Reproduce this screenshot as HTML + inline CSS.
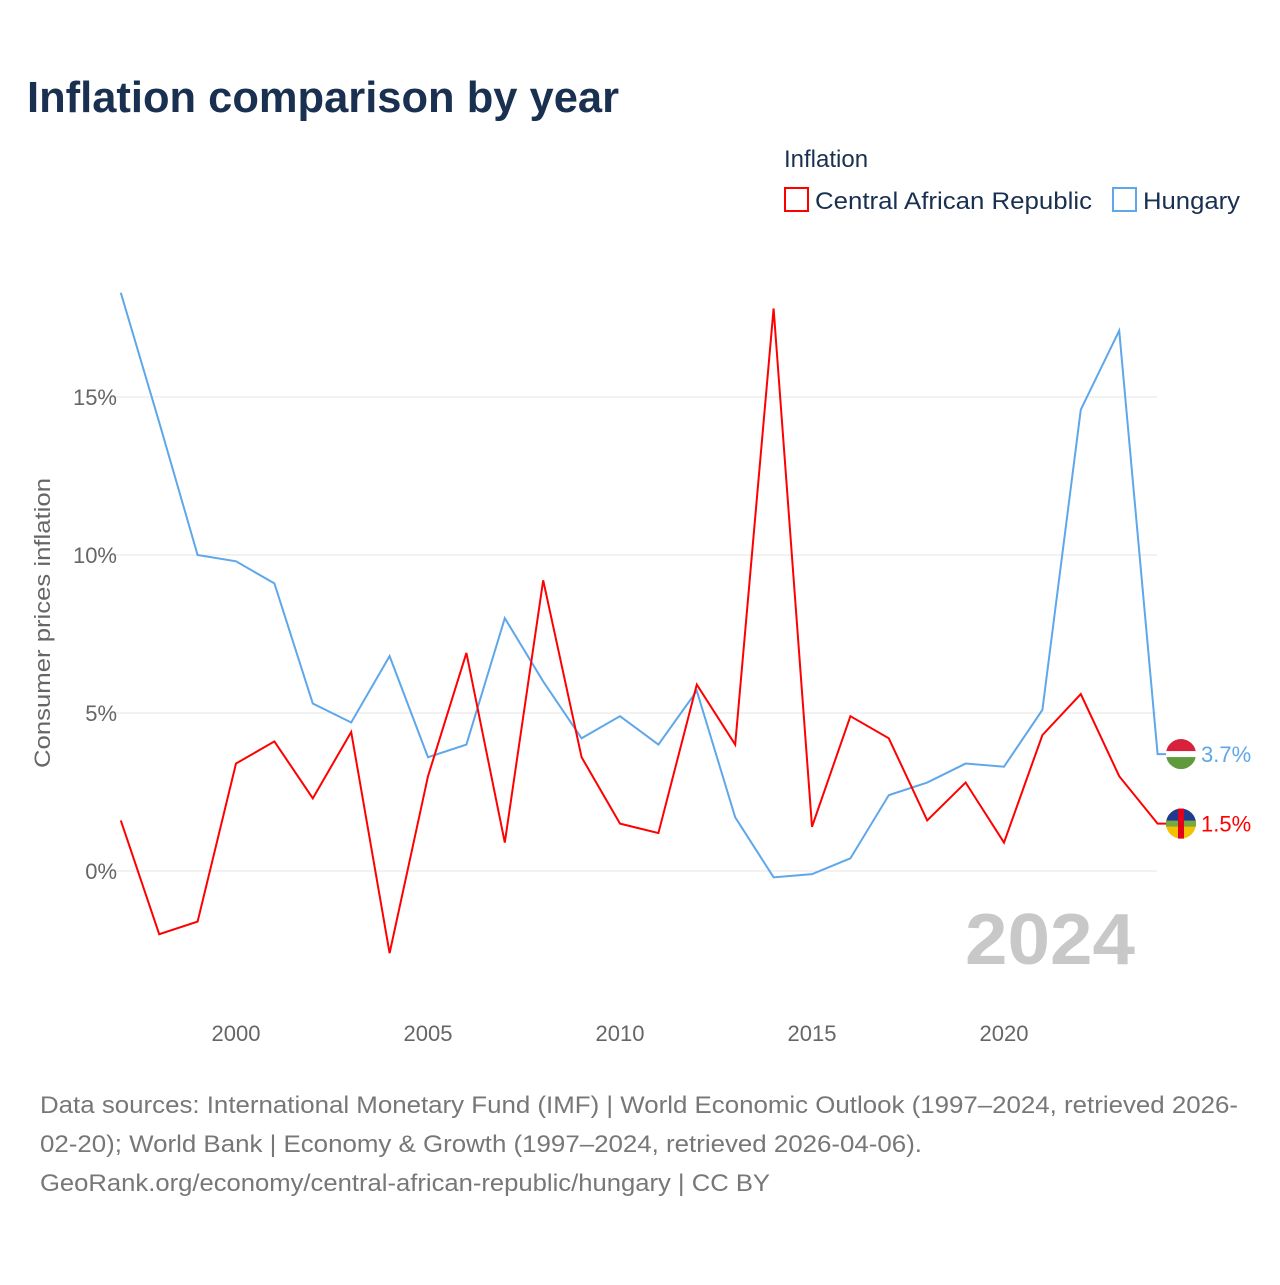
<!DOCTYPE html>
<html><head><meta charset="utf-8"><style>
body{margin:0;background:#fff;font-family:"Liberation Sans",sans-serif;}
svg text{font-family:"Liberation Sans",sans-serif;}
</style></head><body>
<svg id="chart" width="1280" height="1280" xmlns="http://www.w3.org/2000/svg">
<text x="27" y="112" font-size="44" font-weight="bold" fill="#1a3050" textLength="592" lengthAdjust="spacingAndGlyphs">Inflation comparison by year</text>
<text x="784" y="167" font-size="24" fill="#1a3050">Inflation</text>
<g><rect x="785" y="188" width="23" height="23" fill="none" stroke="#f00" stroke-width="2"/><text x="815" y="209" font-size="24" fill="#1a3050" textLength="277" lengthAdjust="spacingAndGlyphs">Central African Republic</text></g>
<g><rect x="1113" y="188" width="23" height="23" fill="none" stroke="#5ea7ea" stroke-width="2"/><text x="1143" y="209" font-size="24" fill="#1a3050" textLength="97" lengthAdjust="spacingAndGlyphs">Hungary</text></g>
<text transform="translate(50,623) rotate(-90)" text-anchor="middle" font-size="22" fill="#666" textLength="290" lengthAdjust="spacingAndGlyphs">Consumer prices inflation</text>
<g id="grid"></g><g id="xt"></g>
<text x="1135" y="964" text-anchor="end" font-size="72" font-weight="bold" fill="#c8c8c8" textLength="170" lengthAdjust="spacingAndGlyphs">2024</text>
<g id="series"></g>
<text x="40" y="1113" font-size="24" fill="#777" textLength="1198" lengthAdjust="spacingAndGlyphs">Data sources: International Monetary Fund (IMF) | World Economic Outlook (1997–2024, retrieved 2026-</text>
<text x="40" y="1152" font-size="24" fill="#777" textLength="882" lengthAdjust="spacingAndGlyphs">02-20); World Bank | Economy &amp; Growth (1997–2024, retrieved 2026-04-06).</text>
<text x="40" y="1191" font-size="24" fill="#777" textLength="730" lengthAdjust="spacingAndGlyphs">GeoRank.org/economy/central-african-republic/hungary | CC BY</text>
</svg>
<script>
const years=[1997,1998,1999,2000,2001,2002,2003,2004,2005,2006,2007,2008,2009,2010,2011,2012,2013,2014,2015,2016,2017,2018,2019,2020,2021,2022,2023,2024];
const carValues=[1.6,-2.0,-1.6,3.4,4.1,2.3,4.4,-2.6,3.0,6.9,0.9,9.2,3.6,1.5,1.2,5.9,4.0,17.8,1.4,4.9,4.2,1.6,2.8,0.9,4.3,5.6,3.0,1.5];
const hunValues=[18.3,14.2,10.0,9.8,9.1,5.3,4.7,6.8,3.6,4.0,8.0,6.0,4.2,4.9,4.0,5.7,1.7,-0.2,-0.1,0.4,2.4,2.8,3.4,3.3,5.1,14.6,17.1,3.7];
const yTicks=[0,5,10,15];
const xTicks=[2000,2005,2010,2015,2020];
const NS="http://www.w3.org/2000/svg";
const x=v=>236+(v-2000)*38.4;
const y=v=>871-v*31.6;
function mk(t,a,p){const e=document.createElementNS(NS,t);for(const k in a)e.setAttribute(k,a[k]);p.appendChild(e);return e;}
const grid=document.getElementById('grid');
yTicks.forEach(t=>{
 const l=mk('line',{x1:110,x2:1157,y1:y(t),y2:y(t),stroke:'#e4e4e4','stroke-width':1},grid);
 
 
 const tx=mk('text',{x:117,y:y(t)+8,'text-anchor':'end','font-size':22,fill:'#666'},grid);tx.textContent=t+'%';
 
 
});
const xt=document.getElementById('xt');
xTicks.forEach(t=>{
 const tx=mk('text',{x:x(t),y:1041,'text-anchor':'middle','font-size':22,fill:'#666'},xt);tx.textContent=t;
 
 
});
const sg=document.getElementById('series');
function series(vals,color,name,flagTop,flagBot,mid,stripe){
 let d=vals.map((v,i)=>(i?'L':'M')+x(years[i])+','+y(v)).join(' ');
 const last=vals[vals.length-1];
 d+=' L'+(x(2024)+12)+','+y(last);
 const p=mk('path',{d:d,fill:'none',stroke:color,'stroke-width':2},sg);
 
 
 const cy=y(last),cx=1181;
 const g=mk('g',{},sg);
 
 
 mk('circle',{cx:cx,cy:cy,r:15,fill:flagBot},g);
 mk('path',{d:`M${cx-15},${cy} A15,15 0 0 1 ${cx+15},${cy} Z`,fill:flagTop},g);
 mk('rect',{x:cx-15,y:cy-3,width:30,height:6,fill:mid},g);
 if(stripe)mk('rect',{x:cx-3,y:cy-15,width:6,height:30,fill:stripe},g);
 const tx=mk('text',{x:1201,y:cy+8,'font-size':22,fill:color},sg);tx.textContent=last.toFixed(1)+'%';
 
 
}
series(hunValues,'#5ea7ea','hungary','#d9213c','#5f9b3c','#fff',null);
series(carValues,'#f00','car','#1f3a8f','#f2c200','#78a840','#e3001b');
</script>
</body></html>
